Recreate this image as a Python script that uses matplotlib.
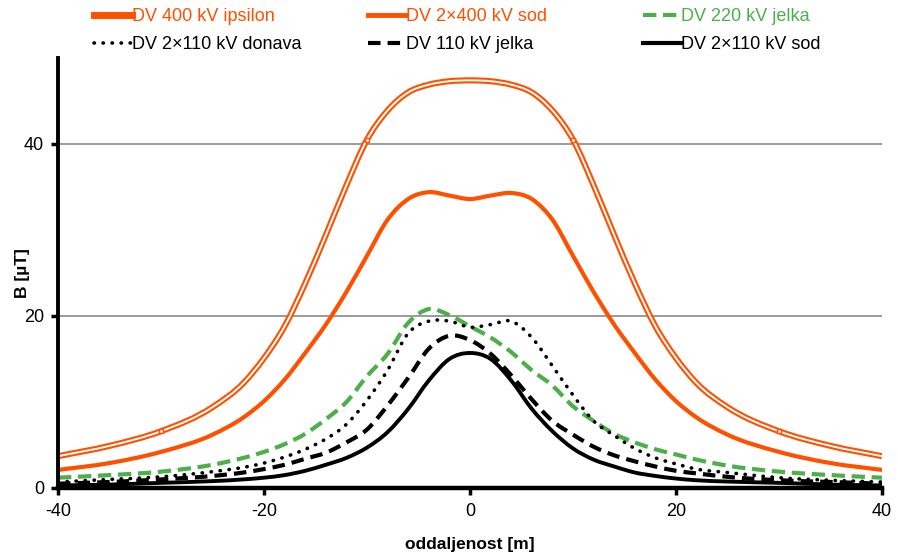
import numpy as np
import matplotlib
matplotlib.use('Agg')
import matplotlib.pyplot as plt
from matplotlib.lines import Line2D
from matplotlib.path import Path
from matplotlib.patches import PathPatch

plt.rcParams['font.family'] = ['Liberation Sans', 'DejaVu Sans']
plt.rcParams['axes.unicode_minus'] = False

# oddaljenost [m]
x = [-40, -35, -30, -25, -22, -20, -18, -16, -14, -12, -10, -8, -6, -4, -2, 0,
     2, 4, 6, 8, 10, 12, 14, 16, 18, 20, 22, 25, 30, 35, 40]

# B [uT]
dv400_ipsilon = [3.7, 4.9, 6.6, 9.4, 12.2, 15.1, 18.8, 23.8, 29.4, 35.2, 40.5, 43.9, 46.0, 46.9, 47.3, 47.4,
                 47.3, 46.9, 46.0, 43.9, 40.5, 35.2, 29.4, 23.8, 18.8, 15.1, 12.2, 9.4, 6.6, 4.9, 3.7]
dv2x400_sod = [2.1, 2.9, 4.2, 6.2, 8.2, 10.1, 12.6, 15.7, 19.0, 22.8, 27.0, 31.2, 33.6, 34.4, 34.0, 33.6,
               34.0, 34.3, 33.6, 31.2, 27.0, 22.8, 19.0, 15.7, 12.6, 10.1, 8.2, 6.2, 4.2, 2.9, 2.1]
dv220_jelka = [1.2, 1.5, 1.9, 2.7, 3.5, 4.2, 5.1, 6.3, 8.0, 10.0, 13.0, 15.6, 19.2, 20.8, 20.1, 18.8,
               17.5, 15.8, 13.7, 11.9, 9.5, 7.8, 6.3, 5.3, 4.5, 3.9, 3.3, 2.6, 1.9, 1.5, 1.2]
dv2x110_donava = [0.7, 1.0, 1.3, 1.9, 2.4, 2.9, 3.6, 4.5, 5.7, 7.4, 10.2, 13.7, 18.0, 19.4, 19.4, 18.7,
                  19.0, 19.4, 17.5, 14.2, 10.8, 7.8, 6.1, 4.6, 3.5, 2.8, 2.2, 1.8, 1.2, 0.9, 0.7]
dv110_jelka = [0.5, 0.7, 1.0, 1.4, 1.8, 2.2, 2.7, 3.4, 4.1, 5.3, 6.8, 9.6, 12.8, 16.2, 17.7, 17.2,
               15.6, 13.1, 10.3, 7.8, 6.2, 4.8, 3.8, 3.1, 2.5, 2.0, 1.7, 1.3, 0.9, 0.7, 0.5]
dv2x110_sod = [0.3, 0.4, 0.6, 0.8, 1.0, 1.2, 1.5, 2.0, 2.7, 3.5, 4.7, 6.5, 9.2, 12.5, 15.0, 15.7,
               15.0, 12.5, 9.2, 6.6, 4.6, 3.3, 2.5, 1.8, 1.4, 1.1, 0.9, 0.75, 0.6, 0.4, 0.3]

labels = ['DV 400 kV ipsilon', 'DV 2×400 kV sod', 'DV 220 kV jelka',
          'DV 2×110 kV donava', 'DV 110 kV jelka', 'DV 2×110 kV sod']

orange = '#FF5000'
green = '#4DAF4A'

dot_style = (0, (0.1, 2.4))
dash_green = (0, (3.2, 1.6))
dash_black = (0, (3.0, 1.7))


def smooth_path(xs, ys):
    # glajena crta skozi tocke (kubicni Hermite po x, zapisan kot Bezier)
    xs = np.asarray(xs, dtype=float)
    ys = np.asarray(ys, dtype=float)
    n = len(xs)
    h = np.diff(xs)
    d = np.diff(ys) / h
    m = np.empty(n)
    m[0], m[-1] = d[0], d[-1]
    for i in range(1, n - 1):
        m[i] = (d[i] * h[i - 1] + d[i - 1] * h[i]) / (h[i - 1] + h[i])
    verts = [(xs[0], ys[0])]
    codes = [Path.MOVETO]
    for i in range(n - 1):
        verts.append((xs[i] + h[i] / 3, ys[i] + m[i] * h[i] / 3))
        verts.append((xs[i + 1] - h[i] / 3, ys[i + 1] - m[i + 1] * h[i] / 3))
        verts.append((xs[i + 1], ys[i + 1]))
        codes += [Path.CURVE4] * 3
    return Path(verts, codes)


def add_curve(ax, ys, **kw):
    patch = PathPatch(smooth_path(x, ys), fill=False, transform=ax.transData, **kw)
    ax.add_patch(patch)
    return patch


fig = plt.figure(figsize=(8.98, 5.57), dpi=100)
ax = fig.add_axes([58 / 898, 69 / 557, 824 / 898, 430 / 557])

ax.yaxis.grid(True, color='#808080', linewidth=1.1)
ax.set_axisbelow(True)

# dvojna crta za 400 kV ipsilon
add_curve(ax, dv400_ipsilon, edgecolor=orange, linewidth=4.4, joinstyle='round', zorder=3)
add_curve(ax, dv400_ipsilon, edgecolor='white', linewidth=1.4, joinstyle='round', zorder=4)
mark_x = [-30, -10, 10, 30]
mark_y = [dv400_ipsilon[x.index(v)] for v in mark_x]
ax.plot(mark_x, mark_y, linestyle='none', marker='s', markersize=3, markerfacecolor='white',
        markeredgecolor=orange, markeredgewidth=1.0, zorder=5)

add_curve(ax, dv2x400_sod, edgecolor=orange, linewidth=3.0, joinstyle='round', zorder=3)
add_curve(ax, dv220_jelka, edgecolor=green, linewidth=3.0, linestyle=dash_green, zorder=3)
add_curve(ax, dv2x110_donava, edgecolor='black', linewidth=2.6, linestyle=dot_style,
          capstyle='round', zorder=3)
add_curve(ax, dv110_jelka, edgecolor='black', linewidth=3.0, linestyle=dash_black, zorder=3)
add_curve(ax, dv2x110_sod, edgecolor='black', linewidth=2.8, joinstyle='round', zorder=3)

ax.set_xlim(-40, 40)
ax.set_ylim(0, 50)
ax.set_xticks([-40, -20, 0, 20, 40])
ax.set_yticks([0, 20, 40])
ax.tick_params(axis='both', direction='out', length=5, width=2.5, labelsize=13, color='black')
ax.tick_params(axis='x', pad=6)
ax.tick_params(axis='y', pad=5)

for side in ('top', 'right'):
    ax.spines[side].set_visible(False)
ax.spines['left'].set_linewidth(2.8)
ax.spines['bottom'].set_linewidth(3.2)
ax.spines['left'].set_zorder(6)
ax.spines['bottom'].set_zorder(6)

ax.set_ylabel('B [µT]', fontsize=12.5, fontweight='bold')
ax.yaxis.set_label_coords(-0.034, 0.5)
ax.set_xlabel('oddaljenost [m]', fontsize=12.5, fontweight='bold')
ax.xaxis.set_label_coords(0.5, -0.113)

handles = [
    Line2D([], [], color=orange, linewidth=5),
    Line2D([], [], color=orange, linewidth=3.5),
    Line2D([], [], color=green, linewidth=3.0, linestyle=dash_green),
    Line2D([], [], color='black', linewidth=2.6, linestyle=dot_style, dash_capstyle='round'),
    Line2D([], [], color='black', linewidth=3.0, linestyle=dash_black),
    Line2D([], [], color='black', linewidth=3.0),
]
text_colors = [orange, orange, green, 'black', 'black', 'black']

# legenda: trije stolpci, vsak posebej postavljen
col_left = [86, 360, 635]
for col in range(3):
    idx = [col, col + 3]
    leg = fig.legend([handles[i] for i in idx], [labels[i] for i in idx], loc='upper left',
                     bbox_to_anchor=(col_left[col] / 898, 1.0), frameon=False, fontsize=13,
                     handlelength=2.1, handletextpad=0.0, labelspacing=0.6,
                     borderaxespad=0.0, borderpad=0.45)
    for t, i in zip(leg.get_texts(), idx):
        t.set_color(text_colors[i])

fig.savefig('out.png', dpi=100)
